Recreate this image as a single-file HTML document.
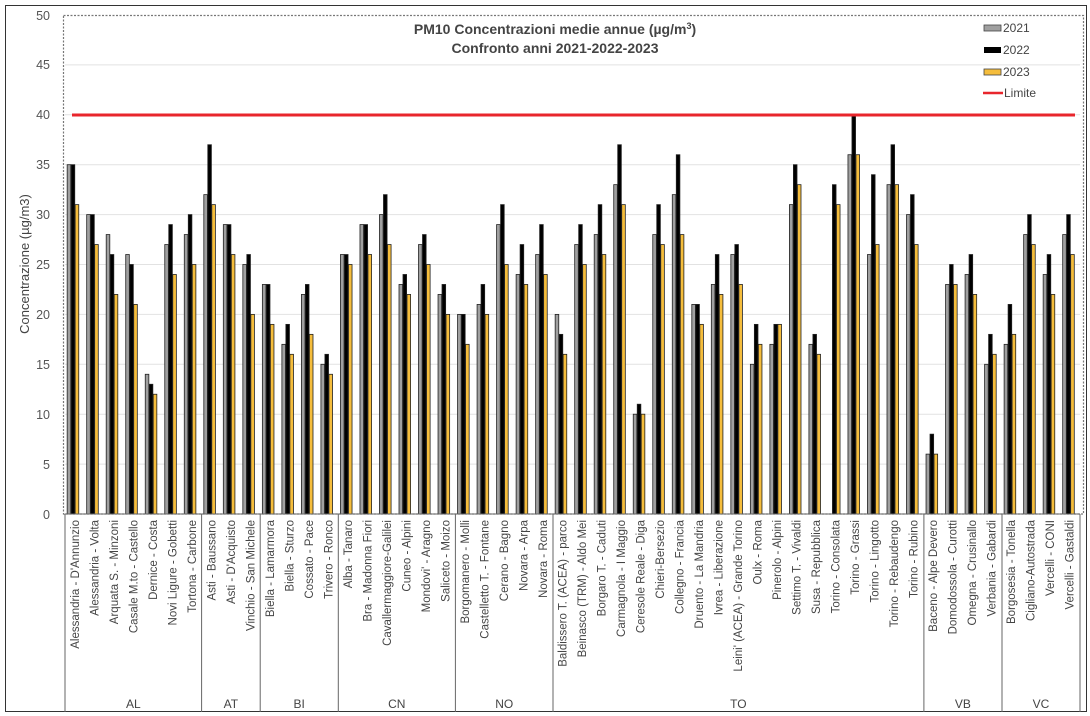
<!DOCTYPE html>
<html><head><meta charset="utf-8"><style>
html,body{margin:0;padding:0;background:#fff;}
svg{display:block;font-family:"Liberation Sans",sans-serif;}
.st{font-size:11.5px;fill:#444;}
.yl{font-size:12.5px;fill:#555;text-anchor:end;}
</style></head><body>
<svg id="c" width="1090" height="716" viewBox="0 0 1090 716" xmlns="http://www.w3.org/2000/svg">
<rect x="5.5" y="5.5" width="1081" height="706" fill="#fff" stroke="#333" stroke-width="1"/>
<g stroke="#e2e2e2" stroke-width="1">
<line x1="65" x2="1080" y1="464.1" y2="464.1"/><line x1="65" x2="1080" y1="414.2" y2="414.2"/>
<line x1="65" x2="1080" y1="364.3" y2="364.3"/><line x1="65" x2="1080" y1="314.4" y2="314.4"/>
<line x1="65" x2="1080" y1="264.5" y2="264.5"/><line x1="65" x2="1080" y1="214.6" y2="214.6"/>
<line x1="65" x2="1080" y1="164.7" y2="164.7"/><line x1="65" x2="1080" y1="114.8" y2="114.8"/>
<line x1="65" x2="1080" y1="64.9" y2="64.9"/>
</g>
<rect x="63.5" y="15.5" width="1020" height="498.5" fill="none" stroke="#777" stroke-width="1.2" stroke-dasharray="2,1.5"/>
<g class="yl">
<text x="50" y="519">0</text><text x="50" y="469">5</text><text x="50" y="419">10</text>
<text x="50" y="369">15</text><text x="50" y="319">20</text><text x="50" y="269">25</text>
<text x="50" y="219">30</text><text x="50" y="169">35</text><text x="50" y="119">40</text>
<text x="50" y="69">45</text><text x="50" y="20">50</text>
</g>
<text transform="translate(29,264) rotate(-90)" text-anchor="middle" style="font-size:13px;fill:#444">Concentrazione (µg/m3)</text>
<text x="555" y="34" text-anchor="middle" style="font-size:14px;font-weight:bold;fill:#444">PM10 Concentrazioni medie annue (µg/m<tspan dy="-5" style="font-size:9px">3</tspan><tspan dy="5">)</tspan></text>
<text x="555" y="53" text-anchor="middle" style="font-size:14px;font-weight:bold;fill:#444">Confronto anni 2021-2022-2023</text>
<g id="bars"></g>
<line x1="72" x2="1075" y1="115" y2="115" stroke="#e8262c" stroke-width="3"/>
<!-- legend -->
<rect x="984" y="25" width="17" height="6" fill="#a0a0a0" stroke="#444" stroke-width="0.8"/>
<text x="1003" y="32" style="font-size:12px;fill:#444">2021</text>
<rect x="984" y="47" width="17" height="6" fill="#000"/>
<text x="1003" y="54" style="font-size:12px;fill:#444">2022</text>
<rect x="984" y="69" width="17" height="6" fill="#f5bd3c" stroke="#444" stroke-width="0.8"/>
<text x="1003" y="76" style="font-size:12px;fill:#444">2023</text>
<line x1="983" x2="1003" y1="93" y2="93" stroke="#e8262c" stroke-width="2.5"/>
<text x="1004" y="97" style="font-size:12px;fill:#444">Limite</text>
<!-- category axis -->
<g stroke="#666" stroke-width="1">
<line x1="65" x2="1080" y1="514" y2="514"/>
<line x1="65" x2="65" y1="514" y2="712"/><line x1="201.6" x2="201.6" y1="514" y2="712"/>
<line x1="260.2" x2="260.2" y1="514" y2="712"/><line x1="338.3" x2="338.3" y1="514" y2="712"/>
<line x1="455.4" x2="455.4" y1="514" y2="712"/><line x1="553" x2="553" y1="514" y2="712"/>
<line x1="923.9" x2="923.9" y1="514" y2="712"/><line x1="1002" x2="1002" y1="514" y2="712"/>
<line x1="1080" x2="1080" y1="514" y2="712"/>
</g>
<g class="st" text-anchor="end">
<text transform="translate(79,520) rotate(-90)">Alessandria - D'Annunzio</text>
<text transform="translate(98.5,520) rotate(-90)">Alessandria - Volta</text>
<text transform="translate(118,520) rotate(-90)">Arquata S. - Minzoni</text>
<text transform="translate(137.5,520) rotate(-90)">Casale M.to - Castello</text>
<text transform="translate(157,520) rotate(-90)">Dernice - Costa</text>
<text transform="translate(176.5,520) rotate(-90)">Novi Ligure - Gobetti</text>
<text transform="translate(196,520) rotate(-90)">Tortona - Carbone</text>
<text transform="translate(215.5,520) rotate(-90)">Asti - Baussano</text>
<text transform="translate(235,520) rotate(-90)">Asti - D'Acquisto</text>
<text transform="translate(254.5,520) rotate(-90)">Vinchio - San Michele</text>
<text transform="translate(274,520) rotate(-90)">Biella - Lamarmora</text>
<text transform="translate(293.5,520) rotate(-90)">Biella - Sturzo</text>
<text transform="translate(313,520) rotate(-90)">Cossato - Pace</text>
<text transform="translate(332.5,520) rotate(-90)">Trivero - Ronco</text>
<text transform="translate(352,520) rotate(-90)">Alba - Tanaro</text>
<text transform="translate(371.5,520) rotate(-90)">Bra - Madonna Fiori</text>
<text transform="translate(391,520) rotate(-90)">Cavallermaggiore-Galilei</text>
<text transform="translate(410.5,520) rotate(-90)">Cuneo - Alpini</text>
<text transform="translate(430,520) rotate(-90)">Mondovi' - Aragno</text>
<text transform="translate(449.5,520) rotate(-90)">Saliceto - Moizo</text>
<text transform="translate(469,520) rotate(-90)">Borgomanero - Molli</text>
<text transform="translate(488.5,520) rotate(-90)">Castelletto T. - Fontane</text>
<text transform="translate(508,520) rotate(-90)">Cerano - Bagno</text>
<text transform="translate(527.5,520) rotate(-90)">Novara - Arpa</text>
<text transform="translate(547,520) rotate(-90)">Novara - Roma</text>
<text transform="translate(566.5,520) rotate(-90)">Baldissero T. (ACEA) - parco</text>
<text transform="translate(586,520) rotate(-90)">Beinasco (TRM) - Aldo Mei</text>
<text transform="translate(605.5,520) rotate(-90)">Borgaro T. - Caduti</text>
<text transform="translate(625,520) rotate(-90)">Carmagnola - I Maggio</text>
<text transform="translate(644.5,520) rotate(-90)">Ceresole Reale - Diga</text>
<text transform="translate(664,520) rotate(-90)">Chieri-Bersezio</text>
<text transform="translate(683.5,520) rotate(-90)">Collegno - Francia</text>
<text transform="translate(703,520) rotate(-90)">Druento - La Mandria</text>
<text transform="translate(722.5,520) rotate(-90)">Ivrea - Liberazione</text>
<text transform="translate(742,520) rotate(-90)">Leini' (ACEA) - Grande Torino</text>
<text transform="translate(761.5,520) rotate(-90)">Oulx - Roma</text>
<text transform="translate(781,520) rotate(-90)">Pinerolo - Alpini</text>
<text transform="translate(800.5,520) rotate(-90)">Settimo T. - Vivaldi</text>
<text transform="translate(820,520) rotate(-90)">Susa - Repubblica</text>
<text transform="translate(839.5,520) rotate(-90)">Torino - Consolata</text>
<text transform="translate(859,520) rotate(-90)">Torino - Grassi</text>
<text transform="translate(878.5,520) rotate(-90)">Torino - Lingotto</text>
<text transform="translate(898,520) rotate(-90)">Torino - Rebaudengo</text>
<text transform="translate(917.5,520) rotate(-90)">Torino - Rubino</text>
<text transform="translate(937,520) rotate(-90)">Baceno - Alpe Devero</text>
<text transform="translate(956.5,520) rotate(-90)">Domodossola - Curotti</text>
<text transform="translate(976,520) rotate(-90)">Omegna - Crusinallo</text>
<text transform="translate(995.5,520) rotate(-90)">Verbania - Gabardi</text>
<text transform="translate(1015,520) rotate(-90)">Borgosesia - Tonella</text>
<text transform="translate(1034.5,520) rotate(-90)">Cigliano-Autostrada</text>
<text transform="translate(1054,520) rotate(-90)">Vercelli - CONI</text>
<text transform="translate(1073.5,520) rotate(-90)">Vercelli - Gastaldi</text>
</g>
<g class="st" text-anchor="middle" style="font-size:12px">
<text x="133.3" y="708">AL</text><text x="230.9" y="708">AT</text><text x="299.2" y="708">BI</text>
<text x="396.8" y="708">CN</text><text x="504.2" y="708">NO</text><text x="738.4" y="708">TO</text>
<text x="962.9" y="708">VB</text><text x="1041" y="708">VC</text>
</g>
</svg>
<script>
var d=[[35,35,31],[30,30,27],[28,26,22],[26,25,21],[14,13,12],[27,29,24],[28,30,25],
[32,37,31],[29,29,26],[25,26,20],
[23,23,19],[17,19,16],[22,23,18],[15,16,14],
[26,26,25],[29,29,26],[30,32,27],[23,24,22],[27,28,25],[22,23,20],
[20,20,17],[21,23,20],[29,31,25],[24,27,23],[26,29,24],
[20,18,16],[27,29,25],[28,31,26],[33,37,31],[10,11,10],[28,31,27],[32,36,28],[21,21,19],[23,26,22],[26,27,23],[15,19,17],[17,19,19],[31,35,33],[17,18,16],[0,33,31],[36,40,36],[26,34,27],[33,37,33],[30,32,27],
[6,8,6],[23,25,23],[24,26,22],[15,18,16],
[17,21,18],[28,30,27],[24,26,22],[28,30,26]];
var cols=["#a0a0a0","#000","#f5bd3c"],s="";
for(var i=0;i<d.length;i++){var cx=74.76+19.52*i;
for(var k=0;k<3;k++){var v=d[i][k];if(!v)continue;var h=v*9.98;
s+='<rect x="'+(cx-8+4*k+0.4)+'" y="'+(514-h)+'" width="3.6" height="'+h+'" fill="'+cols[k]+'" stroke="#222" stroke-width="0.8"/>';}}
document.getElementById("bars").innerHTML=s;
</script>
</body></html>
